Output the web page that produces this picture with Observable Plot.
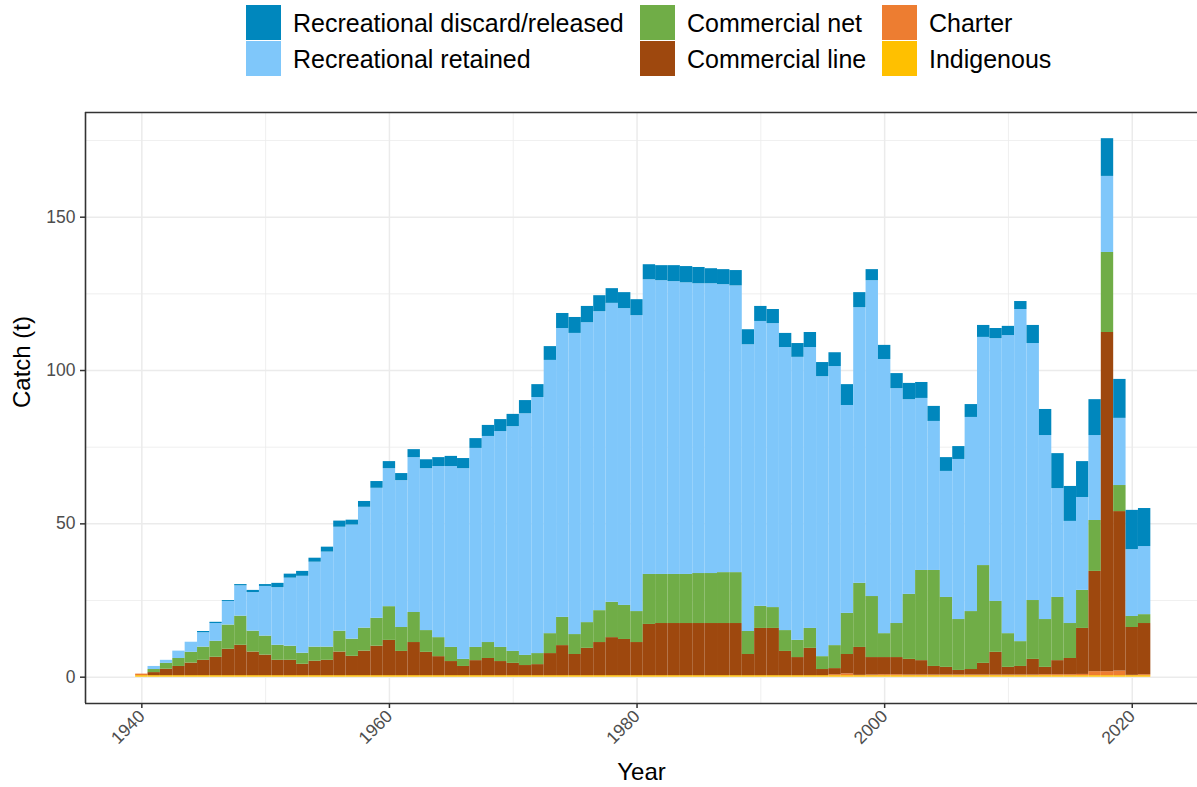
<!DOCTYPE html>
<html><head><meta charset="utf-8">
<script src="https://cdn.jsdelivr.net/npm/d3@7"></script>
<script src="https://cdn.jsdelivr.net/npm/@observablehq/plot@0.6"></script>
<style>
body{margin:0;background:#fff;font-family:"Liberation Sans",Arial,sans-serif;}
#legend{position:relative;height:100px;width:1197px;}
.sw{position:absolute;width:35px;height:35px;}
.lb{position:absolute;font-size:25px;line-height:35px;color:#000;white-space:nowrap;}
</style></head>
<body><div id="legend"></div><div id="chart"></div>
<script>
const years = d3.range(1940, 2022);
const indigenous = years.map(() => 0.5);
const charter = [0.5,0,0,0,0,0,0,0,0,0, 0,0,0,0,0,0,0,0,0,0, 0,0,0,0,0,0,0,0,0,0, 0,0,0,0,0,0,0,0,0,0, 0,0,0,0,0,0,0,0,0,0, 0,0,0,0,0,0,0.3,0.6,0.1,0.2, 0.3,0.3,0.2,0.2,0.2,0.2,0.2,0.2,0.2,0.2, 0.2,0.2,0.2,0.3,0.3,0.3,0.4,1.3,1.3,1.5, 0.1,0.3];
const commercialLine = [0,1.0,2.1,3.0,4.1,5.0,6.0,8.6,9.9,7.7, 6.7,5.0,5.0,3.7,4.7,5.0,7.7,6.3,8.0,9.6, 11.5,7.9,10.8,7.6,6.2,4.6,3.0,4.9,5.6,4.6, 4.0,3.3,3.6,7.2,9.8,6.9,8.9,10.8,12.4,11.8, 10.8,16.7,17.0,17.0,17.0,17.0,17.0,17.0,17.0,6.9, 15.4,15.4,7.9,5.9,8.9,2.0,2.0,6.3,9.1,5.7, 5.6,5.6,5.1,4.7,2.8,2.5,1.5,1.8,3.8,7.4, 2.5,2.8,5.1,2.4,4.6,5.3,15.0,32.7,110.6,52.0, 15.6,16.7];
const commercialNet = [0,1.0,1.9,2.6,3.5,4.3,5.2,7.9,9.5,6.8, 6.2,4.9,4.6,3.6,4.6,4.3,6.8,5.6,7.5,9.1, 11.0,7.8,9.8,7.1,6.2,4.6,2.3,4.3,5.2,4.6, 3.9,3.3,3.6,6.5,9.2,6.5,8.4,10.4,11.5,11.1, 10.1,16.3,16.0,16.0,16.0,16.3,16.3,16.6,16.6,7.5, 7.2,6.8,6.8,5.6,6.5,4.2,7.5,13.4,20.9,19.9, 7.8,11.1,21.2,29.4,31.3,22.8,16.6,18.9,31.9,16.6, 11.0,8.1,19.2,15.6,20.6,11.4,12.4,16.6,26.1,8.5, 3.6,2.9];
const recRetained = [0,1.0,1.0,2.4,3.3,4.7,5.8,7.7,9.9,12.6, 16.2,18.8,22.2,25.1,27.7,31.0,33.9,37.2,39.4,42.4, 45.0,47.9,50.5,52.8,55.8,59.0,62.2,64.9,67.2,70.4, 73.3,78.8,83.5,89.1,94.2,98.2,97.8,97.5,97.5,96.8, 96.5,96.1,95.8,95.5,95.1,94.5,94.5,93.9,93.5,93.5, 92.9,92.6,92.3,92.3,91.6,91.3,91.0,67.8,89.9,103.0, 89.4,76.6,63.5,56.1,48.6,41.1,52.2,63.3,74.4,85.7, 97.2,108.3,83.8,60.0,35.5,33.3,30.3,27.7,24.8,21.9, 21.8,22.2];
const recDiscard = [0,0,0,0,0,0.4,0.4,0.3,0.4,0.7, 0.6,1.4,1.3,1.6,1.3,1.6,2.0,1.6,1.9,2.2, 2.3,2.3,2.6,2.9,2.9,3.3,3.3,3.2,3.6,3.9, 4.0,4.3,4.2,4.5,4.9,5.2,5.3,5.2,4.8,5.2, 5.2,4.9,4.9,5.2,5.3,5.3,4.9,4.9,5.0,4.9, 4.9,4.6,4.6,4.5,4.9,4.6,4.5,6.8,4.9,3.6, 4.6,4.9,5.3,5.2,4.9,4.5,4.2,4.2,3.9,3.3, 3.0,2.6,5.9,8.5,11.4,11.4,11.7,11.7,12.3,12.7, 12.8,12.4];

// stacking order bottom -> top
const seriesNames = ["Indigenous","Charter","Commercial line","Commercial net","Recreational retained","Recreational discard/released"];
const seriesValues = [indigenous, charter, commercialLine, commercialNet, recRetained, recDiscard];
const seriesColors = ["#FFC000","#ED7D31","#9E480E","#70AD47","#7FC7FA","#0087BD"];

const xMajor = [1940,1960,1980,2000,2020];
const xMinor = [1950,1970,1990,2010];
const yMajor = [0,50,100,150];
const yMinor = [25,75,125,175];
const xDomain = [1935.45, 2025.27];
const yDomain = [-8.58, 184.14];

const rows = [];
years.forEach((yr, i) => {
  seriesNames.forEach((s, k) => rows.push({year: yr, series: s, value: seriesValues[k][i]}));
});

// legend (column-major, top of stack first)
const legendOrder = [5,4,3,2,1,0];
const colX = [246, 640, 882];
const rowY = [5, 41];
const leg = document.getElementById("legend");
legendOrder.forEach((k, j) => {
  const c = Math.floor(j / 2), r = j % 2;
  const sw = document.createElement("div");
  sw.className = "sw";
  sw.style.left = colX[c] + "px"; sw.style.top = rowY[r] + "px";
  sw.style.background = seriesColors[k];
  leg.appendChild(sw);
  const lb = document.createElement("div");
  lb.className = "lb";
  lb.style.left = (colX[c] + 47) + "px"; lb.style.top = (rowY[r] + 1) + "px";
  lb.textContent = seriesNames[k];
  leg.appendChild(lb);
});

const plot = Plot.plot({
  width: 1197, height: 687,
  marginLeft: 85, marginRight: 0, marginTop: 12, marginBottom: 84,
  x: {domain: xDomain},
  y: {domain: yDomain},
  color: {domain: seriesNames, range: seriesColors},
  style: {fontFamily: "'Liberation Sans', Arial, sans-serif", background: "white", overflow: "visible"},
  marks: [
    Plot.gridX(xMinor, {stroke: "#EBEBEB", strokeOpacity: 1, strokeWidth: 0.8}),
    Plot.gridY(yMinor, {stroke: "#EBEBEB", strokeOpacity: 1, strokeWidth: 0.8}),
    Plot.gridX(xMajor, {stroke: "#EBEBEB", strokeOpacity: 1, strokeWidth: 1.5}),
    Plot.gridY(yMajor, {stroke: "#EBEBEB", strokeOpacity: 1, strokeWidth: 1.5}),
    Plot.rect(rows, Plot.stackY({x: "year", x1: d => d.year - 0.5, x2: d => d.year + 0.5, y: "value", fill: "series"})),
    Plot.ruleX([xDomain[0]], {stroke: "#333333", strokeWidth: 1.6}),
    Plot.ruleY(yDomain, {stroke: "#333333", strokeWidth: 1.6}),
    Plot.axisX(xMajor, {tickSize: 5, tickPadding: 5, tickRotate: -45, tickFormat: d => String(d), fontSize: 17.5, fill: "#4D4D4D", stroke: "#333333", strokeWidth: 1.5, label: null}),
    Plot.axisY(yMajor, {tickSize: 5, tickPadding: 5, tickFormat: d => String(d), fontSize: 17.5, fill: "#4D4D4D", stroke: "#333333", strokeWidth: 1.5, label: null}),
    Plot.text(["Year"], {frameAnchor: "bottom", dy: 76, fontSize: 24, fill: "#000"}),
    Plot.text(["Catch (t)"], {frameAnchor: "left", dx: -63, rotate: -90, fontSize: 24, fill: "#000"})
  ]
});
document.getElementById("chart").appendChild(plot);
</script>
</body></html>
